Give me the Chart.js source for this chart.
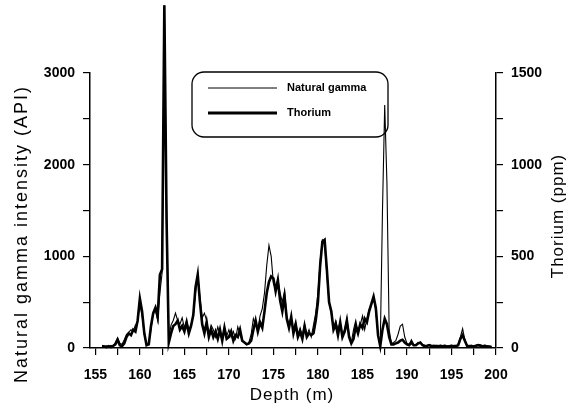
<!DOCTYPE html>
<html>
<head>
<meta charset="utf-8">
<script src="https://cdn.jsdelivr.net/npm/chart.js@4.4.1/dist/chart.umd.min.js"></script>
<style>
  body { margin: 0; background: #fff; }
  #wrap { width: 572px; height: 409px; }
</style>
</head>
<body>
<div id="wrap"><canvas id="logChart" width="572" height="409"></canvas></div>
<script>
// depth (m), every 0.25 m
const depths = [
  155.75,
  156, 156.25, 156.5, 156.75, 157, 157.25, 157.5, 157.75,
  158, 158.25, 158.5, 158.75, 159, 159.25, 159.5, 159.75,
  160, 160.25, 160.5, 160.75, 161, 161.25, 161.5, 161.75,
  162, 162.25, 162.5, 162.75, 163, 163.25, 163.5, 163.75,
  164, 164.25, 164.5, 164.75, 165, 165.25, 165.5, 165.75,
  166, 166.25, 166.5, 166.75, 167, 167.25, 167.5, 167.75,
  168, 168.25, 168.5, 168.75, 169, 169.25, 169.5, 169.75,
  170, 170.25, 170.5, 170.75, 171, 171.25, 171.5, 171.75,
  172, 172.25, 172.5, 172.75, 173, 173.25, 173.5, 173.75,
  174, 174.25, 174.5, 174.75, 175, 175.25, 175.5, 175.75,
  176, 176.25, 176.5, 176.75, 177, 177.25, 177.5, 177.75,
  178, 178.25, 178.5, 178.75, 179, 179.25, 179.5, 179.75,
  180, 180.25, 180.5, 180.75, 181, 181.25, 181.5, 181.75,
  182, 182.25, 182.5, 182.75, 183, 183.25, 183.5, 183.75,
  184, 184.25, 184.5, 184.75, 185, 185.25, 185.5, 185.75,
  186, 186.25, 186.5, 186.75, 187, 187.25, 187.5, 187.75,
  188, 188.25, 188.5, 188.75, 189, 189.25, 189.5, 189.75,
  190, 190.25, 190.5, 190.75, 191, 191.25, 191.5, 191.75,
  192, 192.25, 192.5, 192.75, 193, 193.25, 193.5, 193.75,
  194, 194.25, 194.5, 194.75, 195, 195.25, 195.5, 195.75,
  196, 196.25, 196.5, 196.75, 197, 197.25, 197.5, 197.75,
  198, 198.25, 198.5, 198.75, 199, 199.25, 199.5
];

// natural gamma (API)
const gamma = [
  30,
  20, 25, 15, 30, 20, 60, 110, 50,
  40, 90, 150, 170, 200, 180, 250, 280,
  480, 350, 150, 30, 50, 200, 380, 420,
  300, 600, 820, 3740, 1500, 100, 250, 300,
  380, 300, 260, 330, 220, 300, 200, 250,
  350, 600, 800, 550, 330, 380, 300, 150,
  250, 200, 120, 230, 150, 90, 220, 130,
  200, 120, 180, 100, 230, 150, 80, 60,
  40, 60, 150, 320, 250, 200, 350, 430,
  600, 900, 1120, 1000, 700, 650, 750, 600,
  500, 620, 350, 250, 320, 200, 280, 150,
  220, 130, 260, 140, 200, 120, 250, 380,
  600, 950, 1180, 1150, 800, 500, 380, 220,
  300, 200, 280, 150, 200, 320, 150, 60,
  200, 300, 180, 250, 350, 200, 320, 420,
  480, 560, 400, 150, 30, 1500, 2650, 1800,
  200, 50, 60, 80, 150, 240, 260, 120,
  50, 40, 90, 40, 30, 60, 50, 40,
  30, 25, 40, 30, 25, 30, 20, 30,
  25, 30, 20, 25, 30, 25, 20, 40,
  120, 210, 90, 30, 25, 30, 25, 30,
  40, 35, 25, 30, 25, 20, 15
];

// thorium (ppm)
const thorium = [
  10,
  8, 5, 10, 5, 12, 20, 45, 15,
  10, 25, 60, 80, 70, 100, 90, 150,
  270, 200, 80, 15, 20, 120, 190, 220,
  170, 400, 430, 1870, 700, 30, 80, 120,
  130, 150, 100, 120, 90, 140, 80, 120,
  180, 330, 400, 250, 130, 80, 140, 60,
  100, 60, 90, 50, 100, 40, 110, 50,
  60, 90, 40, 70, 60, 100, 40, 30,
  20, 25, 40, 100, 150, 90, 140, 110,
  200, 300, 360, 390, 380, 310, 370, 260,
  200, 280, 160, 110, 170, 80, 130, 60,
  90, 50, 120, 60, 80, 70, 80, 150,
  250, 450, 580, 590, 430, 250, 200, 100,
  130, 70, 140, 60, 90, 150, 60, 25,
  50, 120, 80, 130, 110, 160, 140, 200,
  240, 280, 220, 70, 10, 100, 160, 130,
  60, 20, 20, 25, 30, 40, 45, 30,
  20, 15, 30, 15, 15, 25, 30, 15,
  10, 12, 15, 10, 12, 10, 10, 12,
  10, 12, 8, 10, 12, 10, 10, 15,
  50, 70, 40, 12, 10, 10, 8, 12,
  15, 12, 10, 12, 8, 8, 5
];

const depthTicks = [155, 157.5, 160, 162.5, 165, 167.5, 170, 172.5, 175, 177.5,
  180, 182.5, 185, 187.5, 190, 192.5, 195, 197.5, 200];

const FONT = '"Liberation Sans", Arial, sans-serif';

// axis titles and the boxed legend
const extras = {
  id: 'extras',
  afterDraw(chart) {
    const ctx = chart.ctx;
    ctx.save();
    ctx.fillStyle = '#000';
    ctx.strokeStyle = '#000';
    ctx.textAlign = 'center';
    ctx.textBaseline = 'middle';

    ctx.font = '17px ' + FONT;
    ctx.letterSpacing = '1px';
    ctx.fillText('Depth (m)', 292, 395);

    ctx.save();
    ctx.translate(22, 234);
    ctx.rotate(-Math.PI / 2);
    ctx.font = '18px ' + FONT;
    ctx.letterSpacing = '2px';
    ctx.fillText('Natural gamma intensity (API)', 0, 0);
    ctx.restore();

    ctx.save();
    ctx.translate(558, 216);
    ctx.rotate(-Math.PI / 2);
    ctx.font = '17px ' + FONT;
    ctx.letterSpacing = '1px';
    ctx.fillText('Thorium (ppm)', 0, 0);
    ctx.restore();

    // legend
    ctx.letterSpacing = '0px';
    ctx.lineWidth = 1.3;
    ctx.beginPath();
    ctx.roundRect(192, 72, 196, 65, 12);
    ctx.stroke();

    ctx.beginPath();
    ctx.lineWidth = 1;
    ctx.moveTo(208, 88); ctx.lineTo(277, 88);
    ctx.stroke();
    ctx.beginPath();
    ctx.lineWidth = 2.8;
    ctx.moveTo(208, 113); ctx.lineTo(277, 113);
    ctx.stroke();

    ctx.textAlign = 'left';
    ctx.font = 'bold 11px ' + FONT;
    ctx.fillText('Natural gamma', 287, 88);
    ctx.fillText('Thorium', 287, 113);
    ctx.restore();
  }
};

const axisGrid = { drawOnChartArea: false, drawTicks: true, tickLength: 7, color: '#000', lineWidth: 1.2 };
const axisBorder = { color: '#000', width: 1.5 };
const tickFont = { family: FONT, size: 14, weight: 'bold' };

new Chart(document.getElementById('logChart'), {
  type: 'line',
  data: {
    datasets: [
      {
        label: 'Natural gamma',
        data: depths.map((d, i) => ({ x: d, y: gamma[i] })),
        borderColor: '#000',
        borderWidth: 1.1,
        pointRadius: 0,
        tension: 0,
        clip: false,
        yAxisID: 'y'
      },
      {
        label: 'Thorium',
        data: depths.map((d, i) => ({ x: d, y: thorium[i] })),
        borderColor: '#000',
        borderWidth: 2.6,
        pointRadius: 0,
        tension: 0,
        clip: false,
        yAxisID: 'y2'
      }
    ]
  },
  options: {
    responsive: false,
    animation: false,
    layout: { padding: { top: 73, left: 0, right: 0, bottom: 0 } },
    plugins: { legend: { display: false }, tooltip: { enabled: false } },
    scales: {
      x: {
        type: 'linear',
        min: 154.4,
        max: 200,
        afterBuildTicks: s => { s.ticks = depthTicks.map(v => ({ value: v })); },
        afterFit: s => { s.height = 61; },
        grid: axisGrid,
        border: axisBorder,
        ticks: {
          color: '#000', font: tickFont, padding: 12, maxRotation: 0, autoSkip: false,
          callback: v => (v % 5 === 0 ? v : '')
        }
      },
      y: {
        position: 'left',
        min: 0,
        max: 3000,
        afterFit: s => { s.width = 90; },
        grid: axisGrid,
        border: axisBorder,
        ticks: {
          color: '#000', font: tickFont, padding: 8, stepSize: 500,
          callback: v => (v % 1000 === 0 ? v : '')
        }
      },
      y2: {
        position: 'right',
        min: 0,
        max: 1500,
        afterFit: s => { s.width = 76; },
        grid: axisGrid,
        border: axisBorder,
        ticks: {
          color: '#000', font: tickFont, padding: 8, stepSize: 250,
          callback: v => (v % 500 === 0 ? v : '')
        }
      }
    }
  },
  plugins: [extras]
});
</script>
</body>
</html>
